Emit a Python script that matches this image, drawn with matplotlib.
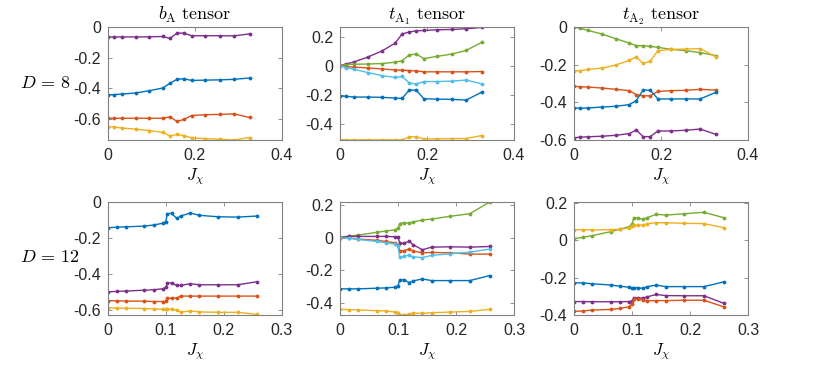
import matplotlib
matplotlib.use("Agg")
import matplotlib.pyplot as plt
from matplotlib.ticker import FuncFormatter

plt.rcParams['mathtext.fontset'] = 'cm'
plt.rcParams['axes.unicode_minus'] = False
plt.rcParams['font.family'] = ['Liberation Sans', 'DejaVu Sans']

# MATLAB default line colours
BLUE = '#0072BD'
ORANGE = '#D95319'
YELLOW = '#EDB120'
PURPLE = '#7E2F8E'
GREEN = '#77AC30'
CYAN = '#4DBEEE'

# coupling values
x8 = [0, 0.014, 0.032, 0.064, 0.096, 0.127, 0.143, 0.159, 0.175, 0.193, 0.224, 0.258, 0.29, 0.326]
x12 = [0, 0.016, 0.031, 0.063, 0.079, 0.095, 0.1, 0.103, 0.11, 0.119, 0.126, 0.142, 0.158, 0.19, 0.224, 0.258]

# D = 8, b_A tensor
bA8_purple = [-0.065, -0.065, -0.065, -0.065, -0.064, -0.062, -0.075, -0.040, -0.040, -0.057, -0.057, -0.057, -0.058, -0.045]
bA8_blue = [-0.444, -0.442, -0.438, -0.431, -0.416, -0.398, -0.367, -0.342, -0.338, -0.349, -0.347, -0.345, -0.342, -0.333]
bA8_orange = [-0.596, -0.596, -0.596, -0.596, -0.596, -0.596, -0.587, -0.616, -0.604, -0.578, -0.573, -0.571, -0.567, -0.591]
bA8_yellow = [-0.651, -0.653, -0.660, -0.667, -0.676, -0.689, -0.711, -0.702, -0.709, -0.724, -0.729, -0.733, -0.738, -0.722]

# D = 8, t_A1 tensor
tA18_purple = [0, 0.011, 0.025, 0.059, 0.100, 0.155, 0.219, 0.231, 0.240, 0.242, 0.247, 0.249, 0.254, 0.263]
tA18_green = [0, 0.007, 0.009, 0.011, 0.014, 0.023, 0.034, 0.073, 0.080, 0.048, 0.064, 0.080, 0.105, 0.160]
tA18_orange = [0, -0.007, -0.011, -0.016, -0.023, -0.030, -0.032, -0.034, -0.037, -0.043, -0.043, -0.043, -0.043, -0.041]
tA18_cyan = [0, -0.014, -0.025, -0.048, -0.069, -0.082, -0.075, -0.119, -0.128, -0.110, -0.110, -0.107, -0.100, -0.126]
tA18_blue = [-0.210, -0.212, -0.217, -0.217, -0.219, -0.224, -0.226, -0.169, -0.169, -0.229, -0.231, -0.233, -0.238, -0.183]
tA18_yellow = [-0.512, -0.512, -0.512, -0.512, -0.512, -0.512, -0.512, -0.491, -0.491, -0.505, -0.505, -0.503, -0.503, -0.482]

# D = 8, t_A2 tensor
tA28_green = [0, -0.007, -0.018, -0.037, -0.062, -0.085, -0.099, -0.099, -0.103, -0.108, -0.119, -0.126, -0.136, -0.152]
tA28_yellow = [-0.232, -0.232, -0.225, -0.218, -0.202, -0.177, -0.159, -0.193, -0.182, -0.126, -0.119, -0.117, -0.115, -0.158]
tA28_orange = [-0.315, -0.317, -0.319, -0.324, -0.331, -0.338, -0.359, -0.366, -0.365, -0.342, -0.338, -0.336, -0.331, -0.335]
tA28_blue = [-0.430, -0.431, -0.430, -0.425, -0.421, -0.412, -0.391, -0.335, -0.335, -0.382, -0.382, -0.382, -0.382, -0.347]
tA28_purple = [-0.588, -0.585, -0.583, -0.580, -0.575, -0.566, -0.547, -0.582, -0.582, -0.552, -0.552, -0.548, -0.542, -0.570]

# D = 12, b_A tensor
bA12_blue = [-0.143, -0.140, -0.138, -0.134, -0.128, -0.118, -0.110, -0.065, -0.063, -0.091, -0.078, -0.061, -0.074, -0.082, -0.084, -0.078]
bA12_purple = [-0.499, -0.497, -0.495, -0.490, -0.488, -0.482, -0.475, -0.451, -0.450, -0.464, -0.464, -0.454, -0.460, -0.460, -0.460, -0.443]
bA12_orange = [-0.549, -0.549, -0.551, -0.551, -0.553, -0.553, -0.551, -0.536, -0.534, -0.533, -0.523, -0.523, -0.523, -0.523, -0.523, -0.523]
bA12_yellow = [-0.588, -0.590, -0.590, -0.592, -0.594, -0.596, -0.594, -0.594, -0.596, -0.601, -0.613, -0.605, -0.611, -0.613, -0.613, -0.625]

# D = 12, t_A1 tensor
tA112_green = [0.004, 0.010, 0.016, 0.033, 0.041, 0.049, 0.058, 0.087, 0.093, 0.089, 0.097, 0.109, 0.115, 0.132, 0.148, 0.220]
tA112_purple = [0, 0.008, 0.008, 0.008, 0.008, 0.006, 0.002, -0.033, -0.035, -0.021, -0.043, -0.074, -0.058, -0.056, -0.058, -0.054]
tA112_orange = [0, -0.002, -0.008, -0.016, -0.023, -0.031, -0.045, -0.080, -0.080, -0.070, -0.082, -0.093, -0.091, -0.093, -0.101, -0.101]
tA112_cyan = [0, -0.004, -0.010, -0.023, -0.031, -0.039, -0.054, -0.120, -0.115, -0.107, -0.118, -0.122, -0.109, -0.099, -0.089, -0.070]
tA112_blue = [-0.315, -0.315, -0.315, -0.311, -0.309, -0.305, -0.297, -0.260, -0.258, -0.276, -0.266, -0.254, -0.264, -0.264, -0.264, -0.233]
tA112_yellow = [-0.441, -0.443, -0.445, -0.449, -0.451, -0.458, -0.462, -0.474, -0.476, -0.470, -0.464, -0.466, -0.462, -0.458, -0.454, -0.441]

# D = 12, t_A2 tensor
tA212_green = [0.009, 0.016, 0.025, 0.046, 0.059, 0.073, 0.085, 0.121, 0.121, 0.112, 0.121, 0.139, 0.135, 0.142, 0.150, 0.121]
tA212_yellow = [0.057, 0.057, 0.055, 0.057, 0.059, 0.066, 0.077, 0.080, 0.080, 0.082, 0.089, 0.094, 0.094, 0.091, 0.089, 0.068]
tA212_blue = [-0.228, -0.228, -0.233, -0.239, -0.246, -0.251, -0.255, -0.255, -0.253, -0.258, -0.248, -0.240, -0.248, -0.248, -0.248, -0.223]
tA212_purple = [-0.328, -0.328, -0.329, -0.329, -0.329, -0.328, -0.326, -0.308, -0.308, -0.310, -0.303, -0.290, -0.296, -0.297, -0.297, -0.337]
tA212_orange = [-0.381, -0.378, -0.374, -0.370, -0.365, -0.356, -0.342, -0.315, -0.315, -0.321, -0.323, -0.323, -0.323, -0.321, -0.321, -0.356]

titles = [r'$b_{\mathrm{A}}\ \mathrm{tensor}$',
          r'$t_{\mathrm{A}_1}\ \mathrm{tensor}$',
          r'$t_{\mathrm{A}_2}\ \mathrm{tensor}$']
row_labels = [r'$D\,=\,8$', r'$D\,=\,12$']

panels = [
    [(x8, [(bA8_purple, PURPLE), (bA8_blue, BLUE), (bA8_orange, ORANGE), (bA8_yellow, YELLOW)]),
     (x8, [(tA18_purple, PURPLE), (tA18_green, GREEN), (tA18_orange, ORANGE), (tA18_cyan, CYAN),
           (tA18_blue, BLUE), (tA18_yellow, YELLOW)]),
     (x8, [(tA28_green, GREEN), (tA28_yellow, YELLOW), (tA28_orange, ORANGE), (tA28_blue, BLUE),
           (tA28_purple, PURPLE)])],
    [(x12, [(bA12_blue, BLUE), (bA12_purple, PURPLE), (bA12_orange, ORANGE), (bA12_yellow, YELLOW)]),
     (x12, [(tA112_green, GREEN), (tA112_purple, PURPLE), (tA112_orange, ORANGE), (tA112_cyan, CYAN),
            (tA112_blue, BLUE), (tA112_yellow, YELLOW)]),
     (x12, [(tA212_green, GREEN), (tA212_yellow, YELLOW), (tA212_blue, BLUE), (tA212_purple, PURPLE),
            (tA212_orange, ORANGE)])],
]

ylims = [[(-0.738, 0.0), (-0.513, 0.266), (-0.6, 0.0)],
         [(-0.628, 0.0), (-0.476, 0.22), (-0.395, 0.205)]]
yticks = [[[-0.6, -0.4, -0.2, 0], [-0.4, -0.2, 0, 0.2], [-0.6, -0.4, -0.2, 0]],
          [[-0.6, -0.4, -0.2, 0], [-0.4, -0.2, 0, 0.2], [-0.4, -0.2, 0, 0.2]]]
xlims = [(0, 0.4), (0, 0.3)]
xticks = [[0, 0.2, 0.4], [0, 0.1, 0.2, 0.3]]

fig = plt.figure(figsize=(8.3, 3.69), dpi=100)
lefts = [107.7 / 830, 340 / 830, 574 / 830]
bottoms = [1 - 140 / 369, 1 - 315 / 369]
w, h = 174 / 830, 113 / 369

fmt = FuncFormatter(lambda v, p: '%g' % round(v, 3))

for r in range(2):
    for c in range(3):
        ax = fig.add_axes([lefts[c], bottoms[r], w, h])
        xs, series = panels[r][c]
        for ys, col in series:
            ax.plot(xs, ys, '-', color=col, lw=1.0, marker='.', ms=3.5)
        ax.set_xlim(*xlims[r])
        ax.set_ylim(*ylims[r][c])
        ax.set_xticks(xticks[r])
        ax.set_yticks(yticks[r][c])
        ax.xaxis.set_major_formatter(fmt)
        ax.yaxis.set_major_formatter(fmt)
        ax.tick_params(direction='in', top=True, right=True, length=3, width=0.6,
                       color='#808080', labelsize=11.5, labelcolor='#262626')
        ax.tick_params(axis='x', pad=6)
        ax.tick_params(axis='y', pad=5)
        for sp in ax.spines.values():
            sp.set_color('#808080')
            sp.set_linewidth(0.8)
        ax.set_xlabel(r'$J_\chi$', fontsize=12, labelpad=2)
        if r == 0:
            ax.set_title(titles[c], fontsize=13, pad=5)

fig.text(0.024, 1 - 83 / 369, row_labels[0], fontsize=13, ha='left', va='center')
fig.text(0.024, 1 - 258 / 369, row_labels[1], fontsize=13, ha='left', va='center')

fig.savefig('out.png', dpi=100)
